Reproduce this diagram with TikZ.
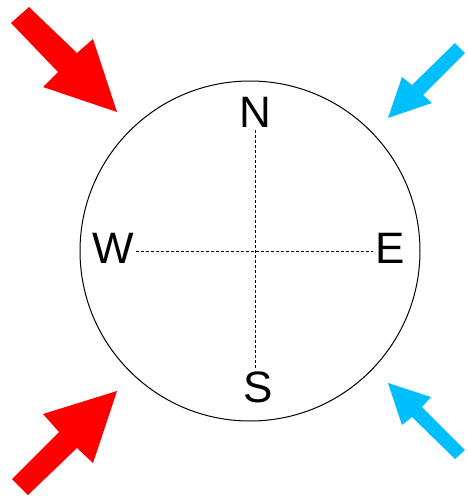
\documentclass[tikz,border=0pt]{standalone}
\usepackage{fontspec}
\setmainfont{Liberation Sans}
\usepackage{xcolor}
\usepackage{tikz}
\definecolor{hotColor}{HTML}{FF0000}
\definecolor{coldColor}{HTML}{00BFFF}
\tikzset{
    pole/.style={inner xsep=2pt, inner ysep=3pt, font=\fontsize{44}{44}\selectfont},
    axis/.style={dash pattern=on 3pt off 2pt, line width=0.8pt},
    hotarrow/.style={fill=hotColor, draw=none},
    coldarrow/.style={fill=coldColor, draw=none}
}

\begin{document}
\begin{tikzpicture}[x=1pt, y=-1pt]
    \useasboundingbox (0,0) rectangle (468,499);
    \node[draw, circle, line width=1pt, minimum size=340pt, inner sep=0pt] (globe) at (250,251) {};
    \node[pole] (n) at (255.5,112) {N};
    \node[pole] (s) at (258,387) {S};
    \node[pole] (w) at (113.5,248.5) {W};
    \node[pole] (e) at (390,248.5) {E};
    \coordinate (mid) at (256,251);
    \draw[axis] (n.south) -- (n.south |- s.north);
    \draw[axis] (w.east |- mid) -- (e.west |- mid);
    \fill[hotarrow] (11,23) -- (29,7) -- (77,53) -- (93,39) -- (117,112) -- (43,87) -- (58,72) -- cycle;
    \fill[hotarrow] (117,391) -- (43,414) -- (59,432) -- (12,479) -- (28,495) -- (77,448) -- (93,463) -- cycle;
    \fill[coldarrow] (455,43) -- (465,53) -- (423,95) -- (432,103) -- (388,118) -- (402,77) -- (412,85) -- cycle;
    \fill[coldarrow] (388,383) -- (431,397) -- (422,407) -- (465,450) -- (455,459) -- (412,417) -- (402,425) -- cycle;
\end{tikzpicture}
\end{document}
